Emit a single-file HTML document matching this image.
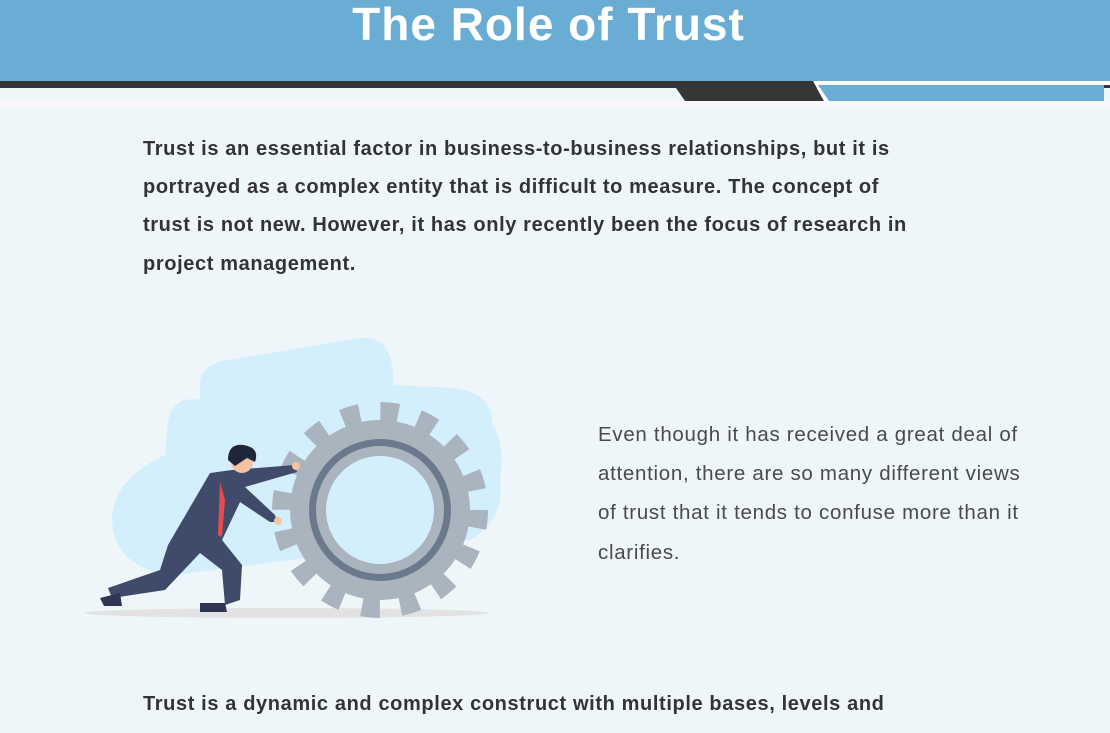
<!DOCTYPE html>
<html><head><meta charset="utf-8"><style>
html,body{margin:0;padding:0}
body{width:1110px;height:733px;overflow:hidden;background:#eef6fa;position:relative;font-family:"Liberation Sans",sans-serif}
.h{position:absolute;left:0;top:0;width:1110px;height:81px;background:#6aadd4}
.t{position:absolute;left:0;top:-3px;width:1097px;text-align:center;color:#fff;font-weight:bold;font-size:46px;letter-spacing:1px}
.b{position:absolute;left:143px;color:#333;font-weight:bold;font-size:20px;letter-spacing:0.62px;white-space:nowrap}
.r{position:absolute;left:598px;color:#4a4a4a;font-size:20.5px;letter-spacing:0.7px;white-space:nowrap}
</style></head><body>
<div class="h"><div class="t">The Role of Trust</div></div>
<svg width="1110" height="110" style="position:absolute;left:0;top:0">
<rect x="0" y="81" width="1110" height="7" fill="#363636"/>
<rect x="0" y="88" width="1110" height="13" fill="#eef6fa"/>
<rect x="0" y="101" width="1110" height="7" fill="#f8f8fb"/>
<polygon points="0,88 676,88 685,101 0,101" fill="#eef6fa"/>
<polygon points="676,88 813,81 824,101 685,101" fill="#363636"/>
<polygon points="672,88 813,88 813,81 0,81 0,88" fill="#363636"/>
<polygon points="813,81 1110,81 1110,85 818,85 829,101 824,101" fill="#fff"/>
<polygon points="818,85 1104,85 1104,101 829,101" fill="#6aadd4"/>
</svg>
<div class="b" style="top:138px">Trust is an essential factor in business-to-business relationships, but it is</div>
<div class="b" style="top:176px">portrayed as a complex entity that is difficult to measure. The concept of</div>
<div class="b" style="top:214px">trust is not new. However, it has only recently been the focus of research in</div>
<div class="b" style="top:253px">project management.</div>
<div class="r" style="top:423px">Even though it has received a great deal of</div>
<div class="r" style="top:462px">attention, there are so many different views</div>
<div class="r" style="top:501px">of trust that it tends to confuse more than it</div>
<div class="r" style="top:541px">clarifies.</div>
<div class="b" style="top:693px">Trust is a dynamic and complex construct with multiple bases, levels and</div>
<svg width="1110" height="733" style="position:absolute;left:0;top:0">
<path d="M200,380 Q205,362 230,360 L360,338 Q395,335 393,385 L455,388 Q495,395 492,425 Q505,440 500,480 Q505,520 470,540 L290,560 L175,575 Q115,570 112,520 Q112,480 165,455 L168,420 Q175,395 200,400 Z" fill="#d4effc"/>
<ellipse cx="287" cy="613" rx="202" ry="5" fill="#e2e2e2"/>
<circle cx="380" cy="510" r="98" fill="none" stroke="#aab4be" stroke-width="20" stroke-dasharray="18 20.5"/>
<circle cx="380" cy="510" r="90" fill="#aab4be"/>
<circle cx="380" cy="510" r="71" fill="#6a7a8c"/>
<circle cx="380" cy="510" r="64" fill="#aab4be"/>
<circle cx="380" cy="510" r="54" fill="#d4effc"/>
<path d="M210,473 L232,470 L295,465 L297,472 L245,487 L275,515 L277,522 L270,522 L240,502 L222,540 L242,565 L240,600 L225,605 L222,570 L200,553 L165,590 L112,598 L108,588 L160,570 L168,545 Z" fill="#404a6a"/>
<polygon points="220,482 225,500 222,537 218,535" fill="#e84c4c"/>
<circle cx="242" cy="462" r="11" fill="#f4c4a0"/>
<path d="M228,460 Q228,443 244,445 Q260,448 255,462 L247,458 L235,466 Z" fill="#1e2838"/>
<circle cx="296" cy="466" r="4" fill="#f4c4a0"/>
<circle cx="278" cy="521" r="4" fill="#f4c4a0"/>
<path d="M100,598 L120,593 L122,606 L104,606 Z" fill="#2e3652"/>
<path d="M200,603 L225,603 L227,612 L200,612 Z" fill="#2e3652"/>
</svg>
</body></html>
